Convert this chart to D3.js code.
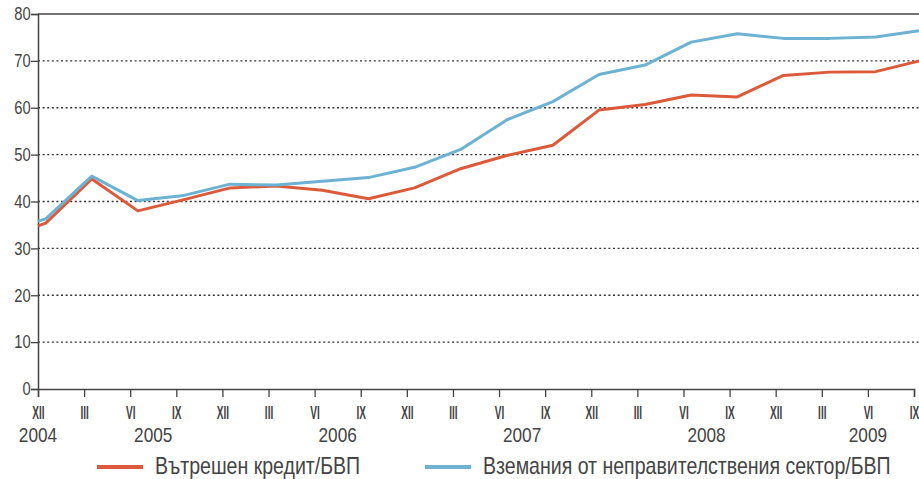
<!DOCTYPE html>
<html>
<head>
<meta charset="utf-8">
<script src="https://cdn.jsdelivr.net/npm/d3@7"></script>
<style>
  body { margin: 0; background: #fff; }
  svg { display: block; }
  text { font-family: "Liberation Sans", Arial, sans-serif; fill: #444; }
  .grid line { stroke: #333; stroke-width: 1.3; stroke-dasharray: 2,2.6; }
  .series { fill: none; stroke-width: 3; stroke-linejoin: round; }
</style>
</head>
<body>
<svg width="919" height="479"></svg>
<script>
// quarter ticks, XII 2004 .. IX 2009
var quarterLabels = ["XII","III","VI","IX","XII","III","VI","IX","XII","III",
                     "VI","IX","XII","III","VI","IX","XII","III","VI","IX"];
var yearLabels = ["2004","2005","2006","2007","2008","2009"];
var yearMonths = [0, 7.5, 19.5, 31.5, 43.5, 54];   // months after XII 2004

// observations: first one sits on the axis, the rest mid-month of each quarter
var obsMonths = [0, 0.5, 3.5, 6.5, 9.5, 12.5, 15.5, 18.5, 21.5, 24.5, 27.5,
                 30.5, 33.5, 36.5, 39.5, 42.5, 45.5, 48.5, 51.5, 54.5, 57.5];

var domesticCredit = [34.8, 35.4, 44.8, 38.0, 40.4, 42.9, 43.3, 42.4, 40.6, 42.9, 47.0,
                      49.8, 52.0, 59.5, 60.7, 62.7, 62.3, 66.9, 67.6, 67.7, 70.1];
var privateClaims = [35.8, 36.3, 45.4, 40.2, 41.3, 43.7, 43.5, 44.3, 45.1, 47.3, 51.1,
                     57.4, 61.3, 67.1, 69.1, 74.0, 75.8, 74.8, 74.8, 75.1, 76.5];

var seriesNames = ["Вътрешен кредит/БВП", "Вземания от неправителствения сектор/БВП"];
var seriesColors = ["#dc5a3a", "#6cb2d2"];

var NARROW = 0.82;   // fake a narrow face by squeezing Liberation Sans

var svg = d3.select("svg"),
    width = +svg.attr("width"),
    plotLeft = 38, plotTop = 14, plotBottom = 389;

var x = d3.scaleLinear().domain([0, 57]).range([plotLeft, 914]);
var y = d3.scaleLinear().domain([0, 80]).range([plotBottom, plotTop]);

// dotted grid
svg.append("g").attr("class", "grid")
    .selectAll("line")
    .data(d3.range(10, 80, 10))
    .enter().append("line")
    .attr("x1", plotLeft).attr("x2", width)
    .attr("y1", function (d) { return y(d); })
    .attr("y2", function (d) { return y(d); });

// top frame line
svg.append("line")
    .attr("x1", plotLeft).attr("x2", width)
    .attr("y1", y(80)).attr("y2", y(80))
    .attr("stroke", "#444").attr("stroke-width", 1.5);

// y axis
var yAxis = svg.append("g")
    .attr("transform", "translate(" + plotLeft + ",0)")
    .call(d3.axisLeft(y).tickValues(d3.range(0, 81, 10)).tickSize(7).tickPadding(2));
yAxis.select(".domain").attr("stroke", "#444").attr("stroke-width", 1.5);
yAxis.selectAll(".tick line").attr("stroke", "#444").attr("stroke-width", 1.3);
yAxis.selectAll("text")
    .attr("transform", "scale(" + NARROW + ",1)")
    .style("font-size", "18px")
    .attr("fill", "#555");

// x axis with roman quarter labels
var xAxis = svg.append("g")
    .attr("transform", "translate(0," + plotBottom + ")")
    .call(d3.axisBottom(x)
        .tickValues(d3.range(0, 58, 3))
        .tickSize(8)
        .tickPadding(9)
        .tickFormat(function (d, i) { return quarterLabels[i]; }));
xAxis.select(".domain").attr("stroke", "#444").attr("stroke-width", 1.5);
xAxis.selectAll(".tick line").attr("stroke", "#444").attr("stroke-width", 1.3);
xAxis.selectAll("text")
    .attr("transform", "scale(0.56,1)")
    .style("font-size", "18px")
    .style("font-weight", "bold")
    .attr("fill", "#333");

svg.append("g").selectAll("text")
    .data(yearLabels)
    .enter().append("text")
    .attr("transform", function (d, i) {
        return "translate(" + x(yearMonths[i]) + ",442) scale(" + NARROW + ",1)";
    })
    .attr("text-anchor", "middle")
    .style("font-size", "21px")
    .attr("fill", "#555")
    .text(function (d) { return d; });

// lines
var line = d3.line()
    .x(function (d) { return x(d.m); })
    .y(function (d) { return y(d.v); });

[domesticCredit, privateClaims].forEach(function (vals, k) {
    var pts = vals.map(function (v, i) { return { m: obsMonths[i], v: v }; });
    svg.append("path")
        .datum(pts)
        .attr("class", "series")
        .attr("stroke", seriesColors[k])
        .attr("d", line);
});

// legend
var legendX = [97, 425];
var legend = svg.append("g").selectAll("g")
    .data(seriesNames)
    .enter().append("g")
    .attr("transform", function (d, i) { return "translate(" + legendX[i] + ",467)"; });
legend.append("line")
    .attr("x1", 0).attr("x2", 46)
    .attr("stroke", function (d, i) { return seriesColors[i]; })
    .attr("stroke-width", 4);
legend.append("text")
    .attr("transform", "translate(58,6.5) scale(0.85,1)")
    .style("font-size", "23px")
    .attr("fill", "#555")
    .text(function (d) { return d; });
</script>
</body>
</html>
